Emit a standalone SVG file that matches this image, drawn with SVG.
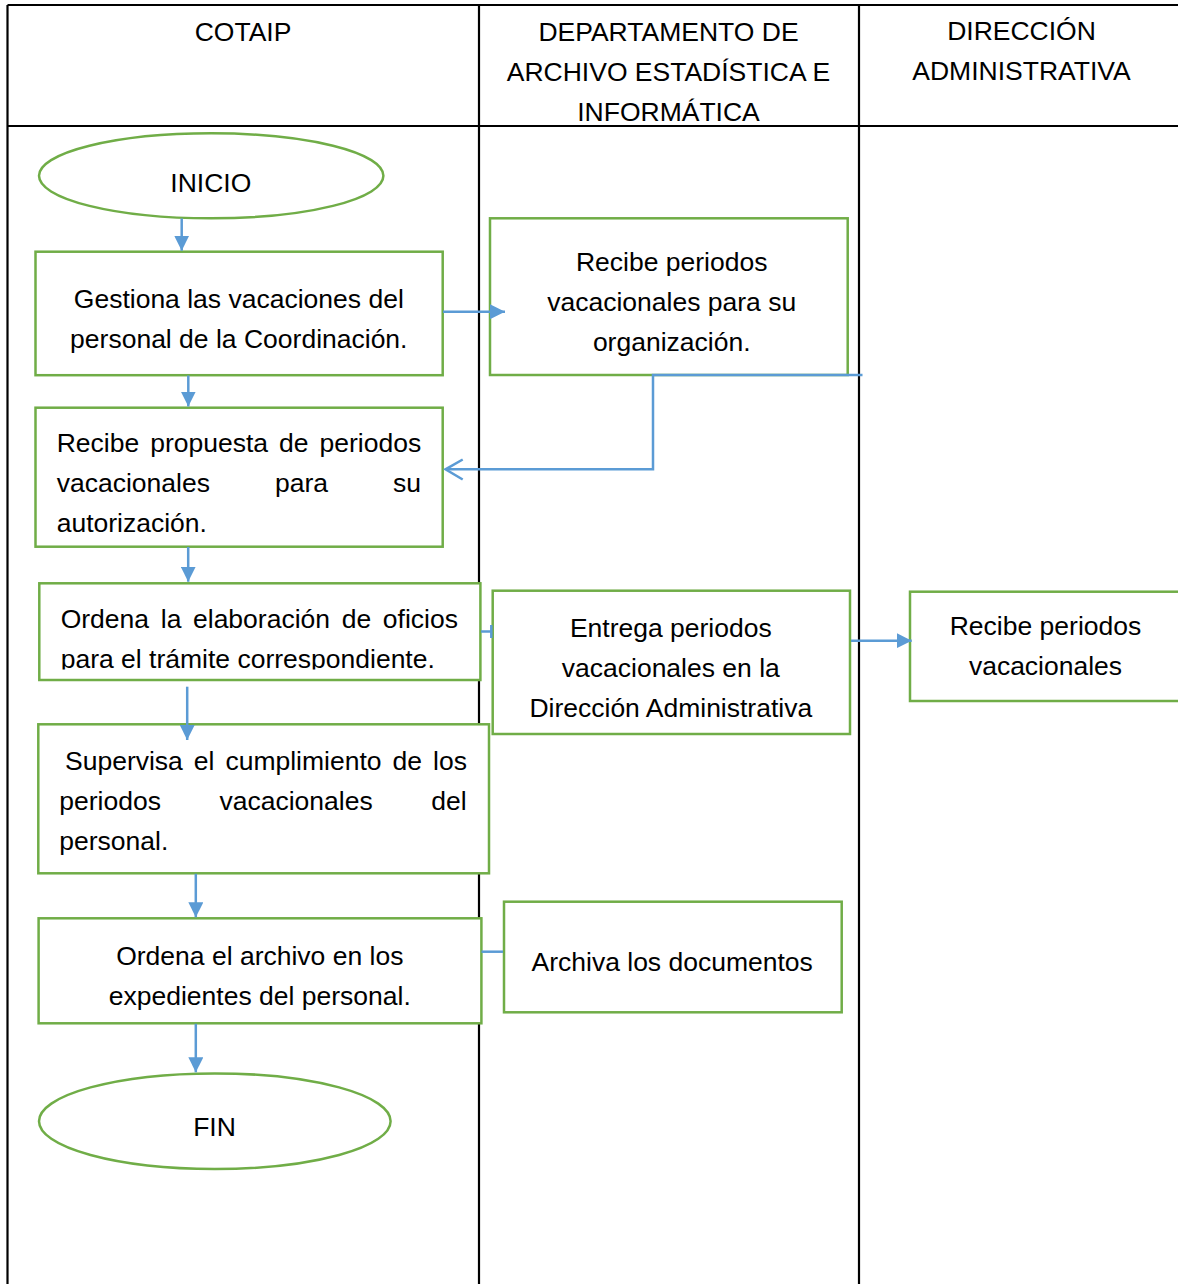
<svg xmlns="http://www.w3.org/2000/svg" width="1178" height="1284" viewBox="0 0 1178 1284">
<style>
text{font-family:"Liberation Sans",Arial,sans-serif;font-size:26.5px;fill:#000}
.c{text-anchor:middle}
.grid{stroke:#000;stroke-width:2.2;fill:none}
.node{fill:#fff;stroke:#70AD47;stroke-width:2.5}
.conn{fill:none;stroke:#5B9BD5;stroke-width:2.5}
</style>
<defs>
<marker id="ah" markerUnits="userSpaceOnUse" markerWidth="15" markerHeight="15" viewBox="0 0 15 15" refX="15" refY="7.5" orient="auto">
<path d="M0,0 L15,7.5 L0,15 z" fill="#5B9BD5"/>
</marker>
<clipPath id="clip4"><rect x="30" y="580" width="460" height="89.5"/></clipPath>
</defs>
<rect width="1178" height="1284" fill="#fff"/>
<g id="table">
<path class="grid" d="M7.5,5 H1178 M7.5,126 H1178 M7.5,5 V1284 M479,5 V1284 M859,5 V1284"/>
<text class="c" x="243" y="40.5">COTAIP</text>
<text class="c" x="668.5" y="40.5">DEPARTAMENTO DE</text>
<text class="c" x="668.5" y="80.5">ARCHIVO ESTADÍSTICA E</text>
<text class="c" x="668.5" y="120.5">INFORMÁTICA</text>
<text class="c" x="1021.5" y="40">DIRECCIÓN</text>
<text class="c" x="1021.5" y="80">ADMINISTRATIVA</text>
</g>
<g id="n-inicio">
<ellipse class="node" cx="211.2" cy="175.8" rx="172.2" ry="42.5"/>
<text class="c" x="210.8" y="191.7">INICIO</text>
</g>
<g id="n-gestiona">
<rect class="node" x="35.5" y="251.7" width="407.2" height="123.5"/>
<text class="c" x="238.8" y="308.3">Gestiona las vacaciones del</text>
<text class="c" x="238.8" y="348.3">personal de la Coordinación.</text>
</g>
<g id="n-recibe-org">
<rect class="node" x="490" y="218.3" width="357.7" height="156.7"/>
<text class="c" x="671.7" y="270.7">Recibe periodos</text>
<text class="c" x="671.7" y="310.7">vacacionales para su</text>
<text class="c" x="671.7" y="350.7">organización.</text>
</g>
<g id="n-recibe-prop">
<rect class="node" x="35.5" y="407.7" width="407.2" height="139"/>
<text y="452.3"><tspan x="56.7">Recibe</tspan><tspan x="150.2">propuesta</tspan><tspan x="279">de</tspan><tspan x="319.5">periodos</tspan></text>
<text y="492.3"><tspan x="56.7">vacacionales</tspan><tspan x="275">para</tspan><tspan x="393">su</tspan></text>
<text x="56.7" y="532.3">autorización.</text>
</g>
<g id="n-ordena-oficios">
<rect class="node" x="39.3" y="583.3" width="441.1" height="96.7"/>
<g clip-path="url(#clip4)">
<text y="628.3"><tspan x="60.7">Ordena</tspan><tspan x="160.8">la</tspan><tspan x="193">elaboración</tspan><tspan x="341.7">de</tspan><tspan x="382.8">oficios</tspan></text>
<text x="60.7" y="668.3">para el trámite correspondiente.</text>
</g>
</g>
<g id="n-entrega">
<rect class="node" x="492.7" y="590.7" width="357.3" height="143.3"/>
<text class="c" x="670.8" y="636.7">Entrega periodos</text>
<text class="c" x="670.8" y="676.7">vacacionales en la</text>
<text class="c" x="670.8" y="716.7">Dirección Administrativa</text>
</g>
<g id="n-recibe-vac">
<rect class="node" x="910" y="591.7" width="290" height="109.3"/>
<text class="c" x="1045.5" y="635">Recibe periodos</text>
<text class="c" x="1045.5" y="675">vacacionales</text>
</g>
<g id="n-supervisa">
<rect class="node" x="38.3" y="724.3" width="450.7" height="149"/>
<text y="770"><tspan x="65">Supervisa</tspan><tspan x="193.8">el</tspan><tspan x="225.4">cumplimiento</tspan><tspan x="392.5">de</tspan><tspan x="433">los</tspan></text>
<text y="810"><tspan x="59.3">periodos</tspan><tspan x="219.5">vacacionales</tspan><tspan x="431.3">del</tspan></text>
<text x="59.3" y="850">personal.</text>
</g>
<g id="n-ordena-archivo">
<rect class="node" x="38.6" y="918.3" width="442.8" height="105"/>
<text class="c" x="259.8" y="965">Ordena el archivo en los</text>
<text class="c" x="259.8" y="1005">expedientes del personal.</text>
</g>
<g id="n-archiva">
<rect class="node" x="504" y="901.7" width="337.7" height="110.6"/>
<text class="c" x="672.2" y="970.7">Archiva los documentos</text>
</g>
<g id="n-fin">
<ellipse class="node" cx="214.8" cy="1121.2" rx="175.8" ry="47.8"/>
<text class="c" x="214.5" y="1136">FIN</text>
</g>
<g id="connectors">
<path class="conn" d="M181.7,218.5 V250.7" marker-end="url(#ah)"/>
<path class="conn" d="M188.3,375.5 V406.5" marker-end="url(#ah)"/>
<path class="conn" d="M443,311.7 H505" marker-end="url(#ah)"/>
<path class="conn" d="M862.5,375 H653 V469.3 H446"/>
<path class="conn" d="M462.7,459.5 L445.5,469.3 L462.7,479.5"/>
<path class="conn" d="M188.2,547 V581.7" marker-end="url(#ah)"/>
<path class="conn" d="M481,631.5 H492"/>
<path class="conn" d="M491.3,625 V638" stroke-width="1.5"/>
<path class="conn" d="M187.2,686.7 V740" marker-end="url(#ah)"/>
<path class="conn" d="M851,640.7 H911.7" marker-end="url(#ah)"/>
<path class="conn" d="M195.8,873.8 V917.3" marker-end="url(#ah)"/>
<path class="conn" d="M481.5,951.7 H503"/>
<path class="conn" d="M195.8,1023.8 V1072.3" marker-end="url(#ah)"/>
</g>
</svg>
